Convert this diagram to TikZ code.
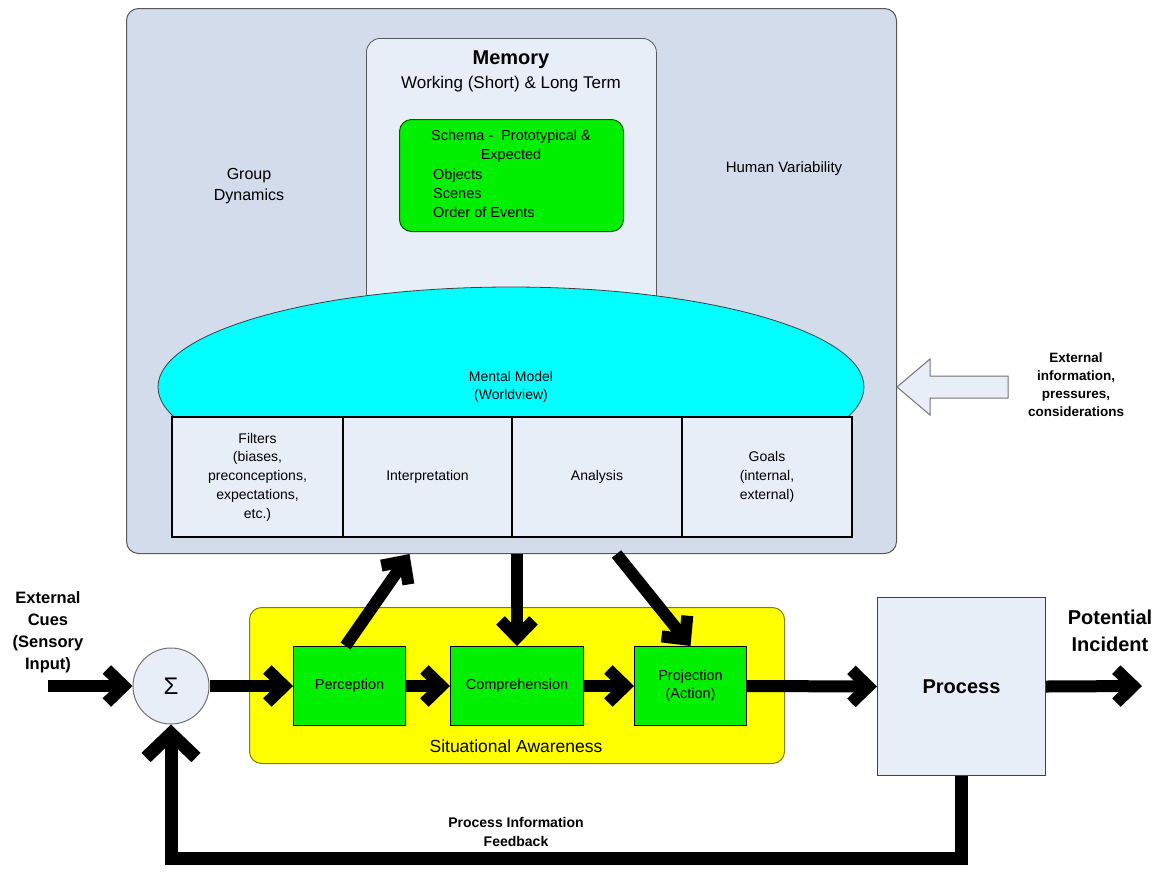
\documentclass[tikz,border=0pt]{standalone}
\usepackage{fontspec}
\setmainfont{Liberation Sans}
\usetikzlibrary{arrows.meta}
\definecolor{outerfill}{HTML}{D2DCEA}
\definecolor{lightfill}{HTML}{E8EEF8}
\definecolor{grn}{HTML}{00F000}
\definecolor{cyn}{HTML}{00FFFF}
\definecolor{yel}{HTML}{FFFF00}
\newcommand{\fs}[2]{\fontsize{#1}{#2}\selectfont}
\begin{document}
\begin{tikzpicture}[x=1pt,y=-1pt,
  outerbox/.style={draw=black!65, fill=outerfill, rounded corners=12pt, line width=1pt, inner sep=0pt},
  membox/.style={draw=black!65, fill=lightfill, rounded corners=14pt, line width=0.8pt, inner sep=0pt},
  greenbox/.style={draw=green!35!black, fill=grn, line width=1pt, inner sep=0pt},
  cellbox/.style={draw=black, fill=lightfill, line width=2pt, inner sep=0pt, align=center, font=\fs{14}{18.7}},
  flowbox/.style={draw=black, fill=grn, line width=1pt, inner sep=0pt, align=center, font=\fs{14.5}{18}},
  flow/.style={line width=12pt, -{Straight Barb[length=17pt,width=33pt]}},
  fback/.style={line width=13pt, -{Straight Barb[length=24pt,width=50pt]}},
  lbl/.style={inner sep=0pt, align=center}
]
\useasboundingbox (0,0) rectangle (1159,871);

% outer mental box
\node[outerbox, anchor=north west, minimum width=770pt, minimum height=545pt] (outer) at (126,8) {};

% memory box
\node[membox, anchor=north west, minimum width=290pt, minimum height=300pt] (memory) at (366,38) {};
\node[lbl, font=\bfseries\fs{20}{24}] (memt) at (511,60) {Memory};
\node[lbl, font=\fs{17}{20}] (memsub) at (511,84) {Working (Short) \& Long Term};

% schema
\node[greenbox, rounded corners=12pt, anchor=north west, minimum width=224pt, minimum height=112pt] (schema) at (399,119) {};
\node[lbl, font=\fs{14.5}{19}] (schemat) at (511,146.5) {Schema -\ \ Prototypical \&\\Expected};
\node[lbl, anchor=west, align=left, font=\fs{14.5}{19}] (schemal) at (433,193) {Objects\\Scenes\\Order of Events};

% side labels
\node[lbl, font=\fs{16}{21}] (group) at (249,186.5) {Group\\Dynamics};
\node[lbl, font=\fs{15}{18}] (human) at (784,169) {Human Variability};

% mental model ellipse
\begin{scope}
  \clip (140,270) rectangle (880,416);
  \draw[fill=cyn, draw=black!75, line width=0.8pt] (511,387) ellipse (353 and 100);
\end{scope}
\node[lbl, font=\fs{14}{18}] (mm) at (511,387) {Mental Model\\(Worldview)};

% cells
\node[cellbox, anchor=north west, minimum width=171pt, minimum height=120pt] (filters) at (171,416) {Filters\\(biases,\\preconceptions,\\expectations,\\etc.)};
\node[cellbox, anchor=north west, minimum width=169pt, minimum height=120pt] (interp) at (342,416) {Interpretation};
\node[cellbox, anchor=north west, minimum width=170pt, minimum height=120pt] (analysis) at (511,416) {Analysis};
\node[cellbox, anchor=north west, minimum width=170pt, minimum height=120pt] (goals) at (681,416) {Goals\\(internal,\\external)};

% external information block arrow
\draw[fill=lightfill, draw=black!55, line width=1pt] (897,387) -- (930,359) -- (930,376) -- (1008,376) -- (1008,398) -- (930,398) -- (930,415) -- cycle;
\node[lbl, font=\bfseries\fs{13.5}{18}] (extinfo) at (1076,385) {External\\information,\\pressures,\\considerations};

% situational awareness
\node[draw=black!50!yel, fill=yel, rounded corners=12pt, line width=1pt, anchor=north west, minimum width=535pt, minimum height=156pt, inner sep=0pt] (sa) at (249,607) {};
\node[lbl, font=\fs{17.5}{20}] (sat) at (516,746) {Situational Awareness};
\node[flowbox, anchor=north west, minimum width=112pt, minimum height=79pt] (perc) at (293,646) {Perception};
\node[flowbox, anchor=north west, minimum width=133pt, minimum height=79pt] (comp) at (450,646) {Comprehension};
\node[flowbox, anchor=north west, minimum width=112pt, minimum height=79pt] (proj) at (634,646) {Projection\\(Action)};

% sigma
\node[circle, draw=black!55, fill=lightfill, line width=1pt, minimum size=76pt, inner sep=0pt, font=\fs{24}{26}] (sigma) at (171,686) {Σ};

% process
\node[draw=black!75, fill=lightfill, line width=1pt, anchor=north west, minimum width=168pt, minimum height=178pt, inner sep=0pt, font=\bfseries\fs{20}{24}] (proc) at (877,597) {Process};
\node[lbl, font=\bfseries\fs{20}{27}] (incident) at (1110,631) {Potential\\Incident};

% external cues
\node[lbl, font=\bfseries\fs{16.5}{22}] (cues) at (48,632) {External\\Cues\\(Sensory\\Input)};
\coordinate (cuesStart) at (48,686);
\coordinate (incEnd) at (1142,686);

% connectors
\draw[flow] (cuesStart) -- (sigma.west);
\draw[flow] (sigma.east) -- (perc.west);
\draw[flow] (perc.east) -- (comp.west);
\draw[flow] (comp.east) -- (proj.west);
\draw[flow] (proj.east) -- (proc.west);
\draw[flow] (proc.east) -- (incEnd);

\coordinate (upEnd) at ([xshift=-102pt]outer.south);
\coordinate (downStart) at (outer.south -| comp.north);
\coordinate (diagStart) at ([xshift=105pt]outer.south);
\draw[flow] ([xshift=-4pt]perc.north) -- (upEnd);
\draw[flow] (downStart) -- (comp.north);
\draw[flow] (diagStart) -- (proj.north);

% feedback
\draw[fback] (proc.south) -- ++(0,82) -| (sigma.south);
\node[lbl, font=\bfseries\fs{14}{19}] (fbt) at (516,832) {Process Information\\Feedback};
\end{tikzpicture}
\end{document}
